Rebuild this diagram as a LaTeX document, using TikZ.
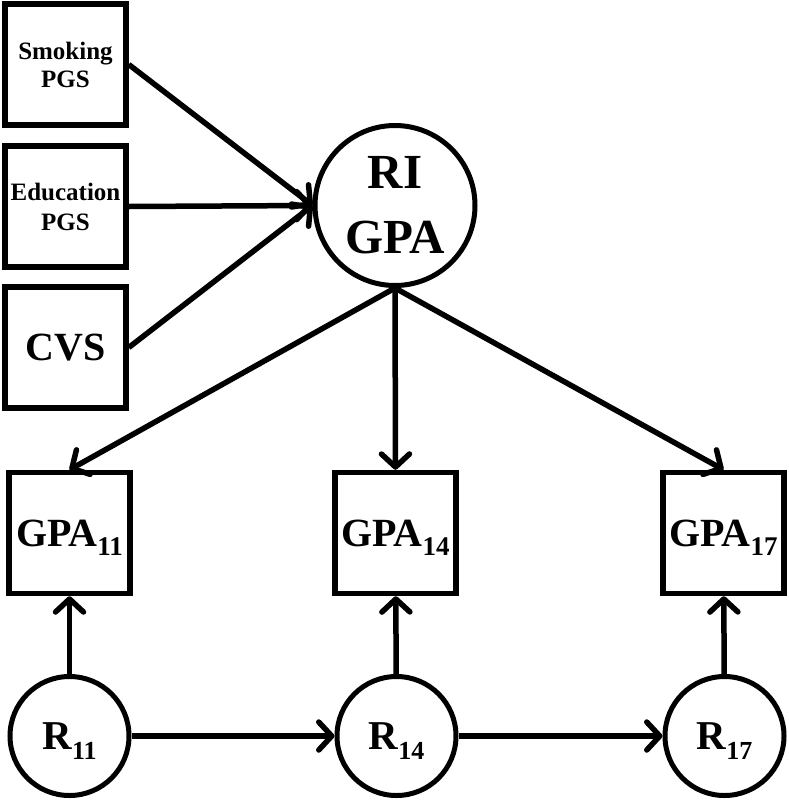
\documentclass[tikz,border=0pt]{standalone}
\usepackage{fontspec}
\setmainfont{Liberation Serif}
\usetikzlibrary{arrows.meta, positioning}

\newcommand{\lowidx}[2]{\raisebox{-#2}[0pt][0pt]{#1}}

\tikzset{
  obsbox/.style={draw, line width=5.5pt, minimum width=121pt, minimum height=121pt, inner sep=0pt, align=center, font=\bfseries},
  latent/.style={draw, circle, line width=5pt, inner sep=0pt, align=center, font=\bfseries},
  patharrow/.style={-{Straight Barb[round, length=13pt, width=28pt, line width=5.5pt]}, line width=5.5pt},
}

\begin{document}
\begin{tikzpicture}[x=1pt, y=-1pt]
  \useasboundingbox (0,0) rectangle (789,801);

  % Predictors of the random intercept
  \node[obsbox, font=\fontsize{25}{28}\selectfont\bfseries] (smoke) at (65.5, 64.5) {Smoking\\PGS};
  \node[obsbox, font=\fontsize{25}{30}\selectfont\bfseries] (edu) at (65.5, 206.5) {Education\\PGS};
  \node[obsbox, font=\fontsize{40}{44}\selectfont\bfseries] (cvs) at (65.5, 347.5) {CVS};

  % Random intercept
  \node[latent, minimum size=160pt, font=\fontsize{49}{65}\selectfont\bfseries] (rigpa) at (395, 205.5) {RI\\GPA};

  % Observed GPA
  \node[obsbox, font=\fontsize{40}{44}\selectfont\bfseries] (gpa11) at (69.5, 533) {GPA\lowidx{\fontsize{27}{28}\selectfont 11}{9pt}};
  \node[obsbox, font=\fontsize{40}{44}\selectfont\bfseries] (gpa14) at (395.5, 533) {GPA\lowidx{\fontsize{27}{28}\selectfont 14}{9pt}};
  \node[obsbox, font=\fontsize{40}{44}\selectfont\bfseries] (gpa17) at (723.5, 533) {GPA\lowidx{\fontsize{27}{28}\selectfont 17}{9pt}};

  % Residuals
  \node[latent, minimum size=119pt, font=\fontsize{41}{44}\selectfont\bfseries] (r11) at (69.5, 736) {R\lowidx{\fontsize{26}{28}\selectfont 11}{10pt}};
  \node[latent, minimum size=119pt, font=\fontsize{41}{44}\selectfont\bfseries] (r14) at (396.5, 736) {R\lowidx{\fontsize{26}{28}\selectfont 14}{10pt}};
  \node[latent, minimum size=119pt, font=\fontsize{41}{44}\selectfont\bfseries] (r17) at (724.5, 736) {R\lowidx{\fontsize{26}{28}\selectfont 17}{10pt}};

  % Paths
  \draw[patharrow] (smoke.east) -- (rigpa.west);
  \draw[patharrow] (edu.east) -- (rigpa.west);
  \draw[patharrow] (cvs.east) -- (rigpa.west);

  \draw[patharrow] (rigpa.south) -- (gpa11.north);
  \draw[patharrow] (rigpa.south) -- (gpa14.north);
  \draw[patharrow] (rigpa.south) -- (gpa17.north);

  \draw[patharrow] (r11) -- (gpa11);
  \draw[patharrow] (r14) -- (gpa14);
  \draw[patharrow] (r17) -- (gpa17);

  \draw[patharrow] (r11) -- (r14);
  \draw[patharrow] (r14) -- (r17);
\end{tikzpicture}
\end{document}
